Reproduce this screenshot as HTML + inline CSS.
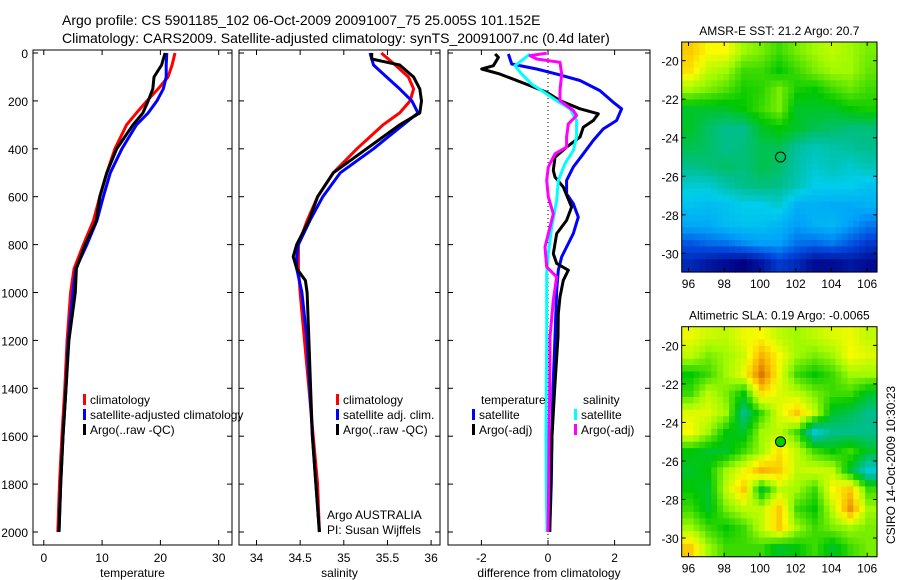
<!DOCTYPE html>
<html><head><meta charset="utf-8">
<style>
html,body{margin:0;padding:0;background:#fff;}
svg{display:block;font-family:"Liberation Sans",sans-serif;}
</style></head>
<body>
<svg id="fig" width="900" height="580" viewBox="0 0 900 580" xmlns="http://www.w3.org/2000/svg">
<text x="62" y="25" font-size="14">Argo profile: CS 5901185_102 06-Oct-2009 20091007_75 25.005S 101.152E</text>
<text x="62" y="43" font-size="14">Climatology: CARS2009. Satellite-adjusted climatology: synTS_20091007.nc (0.4d later)</text>
<g id="layer"></g>
</svg>
<script>
// ---- Data ----
const depthTicks=[0,200,400,600,800,1000,1200,1400,1600,1800,2000];
const tempTicks=[0,10,20,30];
const salTicks=[34,34.5,35,35.5,36];
const diffTicks=[-2,0,2];
const latTicks=[-20,-22,-24,-26,-28,-30];
const lonTicks=[96,98,100,102,104,106];

const tDepth=[0,50,100,150,200,250,300,400,500,600,700,800,900,1000,1200,1400,1600,1800,2000];
const tempClim=[22.5,22.0,21.3,19.6,17.7,15.9,14.2,12.2,10.8,9.6,8.5,6.8,5.2,4.6,4.0,3.6,3.1,2.7,2.4];
const tempSat=[21.1,21.0,21.0,20.5,19.4,17.9,15.9,13.4,11.4,10.2,9.1,7.4,5.5,5.0,4.2,3.8,3.3,2.9,2.6];
const tempArgo=[20.8,20.2,18.9,18.7,17.9,17.0,15.3,12.5,10.8,9.6,9.0,7.1,5.6,5.4,4.3,3.8,3.3,2.9,2.6];

const sDepth=[0,50,100,150,200,250,300,400,500,600,700,800,850,900,950,1000,1200,1400,1600,1800,2000];
const salClim=[35.43,35.59,35.74,35.80,35.76,35.64,35.45,35.15,34.88,34.70,34.58,34.48,34.48,34.48,34.49,34.50,34.55,34.60,34.65,34.70,34.72];
const salSat=[35.30,35.34,35.49,35.64,35.78,35.85,35.68,35.34,34.96,34.76,34.61,34.48,34.46,34.46,34.49,34.52,34.58,34.61,34.64,34.68,34.72];
const salArgoD=[0,25,50,100,150,200,250,300,400,500,600,700,800,850,900,950,1000,1200,1400,1600,1800,2000];
const salArgo=[35.32,35.32,35.64,35.80,35.87,35.89,35.87,35.64,35.26,34.88,34.70,34.60,34.46,34.42,34.46,34.56,34.58,34.60,34.62,34.64,34.68,34.72];

const dTempArgoD=[4,18,53,67,88,136,164,199,233,254,282,310,351,393,435,490,518,560,643,699,754,838,879,907,949,1018,1088,1185,1400,1600,1800,2000];
const dTempArgo=[-1.59,-1.49,-1.64,-1.99,-1.44,-0.54,-0.04,0.36,0.96,1.51,1.36,1.06,0.96,0.56,0.21,0.16,0.21,0.46,0.71,0.56,0.26,0.16,0.26,0.61,0.46,0.36,0.31,0.3,0.2,0.12,0.08,0.05];
const dTempSatD=[4,46,67,88,115,157,206,233,282,317,365,421,476,532,588,629,685,754,810,851,907,990,1185,1400,1600,1800,2000];
const dTempSat=[-1.19,-1.09,-0.34,0.26,0.96,1.56,1.96,2.21,2.06,1.66,1.36,1.06,0.76,0.56,0.56,0.76,0.91,0.76,0.56,0.41,0.31,0.26,0.21,0.15,0.12,0.1,0.05];
const dSalSatD=[4,53,88,130,157,199,233,282,351,407,462,532,615,727,838,921,1185,1400,1600,1800,2000];
const dSalSat=[-0.54,-0.99,-0.79,-0.49,-0.19,0.26,0.66,0.86,0.86,0.76,0.51,0.31,0.26,0.11,0.01,-0.04,-0.04,-0.05,-0.06,-0.05,-0.03];
const dSalArgoD=[1,11,25,39,88,157,199,240,261,296,351,393,421,476,532,601,671,727,810,893,935,1032,1185,1400,1600,1800,2000];
const dSalArgo=[-0.04,-0.54,-0.34,0.36,0.41,0.36,0.36,0.76,0.86,0.61,0.56,0.56,0.21,0.01,-0.04,0.01,0.16,0.06,-0.09,-0.04,0.26,0.16,0.06,0.05,0.03,0.02,0.0];

const sstGrid=[
[0.70,0.66,0.66,0.60,0.58,0.55,0.58,0.60,0.62,0.60,0.58],
[0.68,0.62,0.60,0.55,0.55,0.52,0.55,0.58,0.60,0.60,0.57],
[0.60,0.58,0.56,0.53,0.54,0.58,0.53,0.52,0.55,0.57,0.55],
[0.50,0.50,0.50,0.52,0.55,0.58,0.50,0.50,0.50,0.52,0.53],
[0.50,0.47,0.45,0.45,0.50,0.52,0.50,0.48,0.47,0.46,0.46],
[0.48,0.47,0.45,0.46,0.48,0.48,0.44,0.42,0.43,0.44,0.45],
[0.45,0.46,0.47,0.46,0.48,0.47,0.43,0.40,0.42,0.40,0.42],
[0.40,0.40,0.43,0.45,0.46,0.45,0.42,0.38,0.38,0.38,0.36],
[0.36,0.35,0.36,0.38,0.38,0.40,0.33,0.33,0.32,0.32,0.33],
[0.32,0.32,0.35,0.36,0.36,0.34,0.30,0.33,0.34,0.30,0.26],
[0.22,0.24,0.25,0.28,0.30,0.30,0.25,0.24,0.26,0.22,0.18],
[0.15,0.12,0.10,0.08,0.12,0.18,0.15,0.10,0.10,0.12,0.10]];
const slaGrid=[
[0.65,0.63,0.62,0.65,0.66,0.62,0.60,0.62,0.64,0.65,0.62],
[0.62,0.58,0.60,0.63,0.72,0.66,0.60,0.58,0.60,0.66,0.64],
[0.52,0.55,0.60,0.65,0.78,0.65,0.55,0.52,0.55,0.60,0.60],
[0.55,0.62,0.58,0.52,0.68,0.64,0.62,0.58,0.55,0.55,0.50],
[0.64,0.64,0.60,0.45,0.55,0.64,0.70,0.62,0.50,0.48,0.45],
[0.66,0.60,0.52,0.50,0.60,0.62,0.55,0.40,0.45,0.45,0.45],
[0.52,0.50,0.50,0.55,0.60,0.68,0.62,0.55,0.52,0.55,0.50],
[0.50,0.52,0.60,0.65,0.72,0.70,0.62,0.63,0.62,0.50,0.40],
[0.52,0.50,0.62,0.70,0.50,0.62,0.60,0.55,0.66,0.70,0.55],
[0.55,0.50,0.58,0.62,0.62,0.70,0.55,0.52,0.62,0.75,0.60],
[0.60,0.55,0.52,0.55,0.62,0.70,0.60,0.55,0.58,0.60,0.58],
[0.70,0.60,0.55,0.55,0.55,0.50,0.52,0.55,0.50,0.55,0.58]];
const argoLon=101.15, argoLat=-25.0;

// ---- Helpers ----
const NS="http://www.w3.org/2000/svg";
const layer=document.getElementById('layer');
function mk(tag,attrs,parent){const e=document.createElementNS(NS,tag);for(const k in attrs)e.setAttribute(k,attrs[k]);(parent||layer).appendChild(e);return e;}
const yD=d=>53+d*0.2395;
const PTOP=50, PBOT=545;
const stops=[[0.08,0,0,130],[0.2,0,70,220],[0.3,0,160,250],[0.38,0,205,235],[0.45,0,190,140],[0.52,0,200,0],[0.6,160,250,0],[0.66,250,250,0],[0.72,250,180,0],[0.8,210,100,0]];
function cmap(v){
 if(v<=stops[0][0])return `rgb(${stops[0][1]},${stops[0][2]},${stops[0][3]})`;
 for(let i=1;i<stops.length;i++){if(v<=stops[i][0]){const a=stops[i-1],b=stops[i],t=(v-a[0])/(b[0]-a[0]);
  return `rgb(${Math.round(a[1]+t*(b[1]-a[1]))},${Math.round(a[2]+t*(b[2]-a[2]))},${Math.round(a[3]+t*(b[3]-a[3]))})`;}}
 const l=stops[stops.length-1];return `rgb(${l[1]},${l[2]},${l[3]})`;}

function panel(name,x0,x1,xf,ticks,title,showY){
 const g=mk('g',{});
 
 
 const fr=mk('rect',{x:x0,y:PTOP,width:x1-x0,height:PBOT-PTOP,fill:'none',stroke:'#000','stroke-width':1},g);
 
 
 depthTicks.forEach(d=>{
  mk('line',{x1:x0,x2:x0+5,y1:yD(d),y2:yD(d),stroke:'#000'},g);
  mk('line',{x1:x1-5,x2:x1,y1:yD(d),y2:yD(d),stroke:'#000'},g);
  if(showY){const t=mk('text',{x:x0-5,y:yD(d)+5,'font-size':12,'text-anchor':'end'},g);t.textContent=d;
   
   }
 });
 ticks.forEach(v=>{const x=xf(v);
  mk('line',{x1:x,x2:x,y1:PBOT,y2:PBOT-5,stroke:'#000'},g);
  mk('line',{x1:x,x2:x,y1:PTOP,y2:PTOP+5,stroke:'#000'},g);
  const t=mk('text',{x:x,y:PBOT+17,'font-size':12,'text-anchor':'middle'},g);t.textContent=v;
  
  });
 const tt=mk('text',{x:(x0+x1)/2,y:577,'font-size':12,'text-anchor':'middle'},g);tt.textContent=title;
 
 
 return g;
}
function line(name,ds,vs,xf,color,g){
 const pts=ds.map((d,i)=>xf(vs[i]).toFixed(1)+','+yD(d).toFixed(1)).join(' ');
 const p=mk('polyline',{points:pts,fill:'none',stroke:color,'stroke-width':3,'stroke-linejoin':'round'},g);
 
 
}
function legend(g,x,y,items){
 items.forEach((it,i)=>{
  if(it[1]){const r=mk('rect',{x:x,y:y+i*15-10,width:3,height:11,fill:it[1]},g);
   
   }
  const t=mk('text',{x:x+(it[1]?7:0),y:y+i*15,'font-size':12},g);t.textContent=it[0];
  
  
 });
}

// temperature panel
const xT=v=>43.8+5.83*v;
const g1=panel('temperature-panel',33,232,xT,tempTicks,'temperature',true);
line('temp-climatology',tDepth,tempClim,xT,'#f00',g1);
line('temp-satellite-adjusted',tDepth,tempSat,xT,'#00f',g1);
line('temp-argo',tDepth,tempArgo,xT,'#000',g1);
legend(g1,83,404,[['climatology','#f00'],['satellite-adjusted climatology','#00f'],['Argo(..raw -QC)','#000']]);

// salinity panel
const xS=v=>256.5+87.3*(v-34);
const g2=panel('salinity-panel',239,440,xS,salTicks,'salinity',false);
line('sal-climatology',sDepth,salClim,xS,'#f00',g2);
line('sal-satellite-adjusted',sDepth,salSat,xS,'#00f',g2);
line('sal-argo',salArgoD,salArgo,xS,'#000',g2);
legend(g2,336,404,[['climatology','#f00'],['satellite adj. clim.','#00f'],['Argo(..raw -QC)','#000']]);
legend(g2,327,519,[['Argo AUSTRALIA',null],['PI: Susan Wijffels',null]]);

// difference panel
const xDf=v=>548+33.3*v;
const g3=panel('difference-panel',448,650,xDf,diffTicks,'difference from climatology',false);
const zl=mk('line',{x1:xDf(0),x2:xDf(0),y1:PTOP,y2:PBOT,stroke:'#000','stroke-dasharray':'1,3'},g3);


line('diff-temp-satellite',dTempSatD,dTempSat,xDf,'#00f',g3);
line('diff-temp-argo',dTempArgoD,dTempArgo,xDf,'#000',g3);
line('diff-sal-satellite',dSalSatD,dSalSat,xDf,'#0ff',g3);
line('diff-sal-argo',dSalArgoD,dSalArgo,xDf,'#f0f',g3);
legend(g3,481,404,[['temperature',null]]);
legend(g3,472,419,[['satellite','#00f'],['Argo(-adj)','#000']]);
legend(g3,583,404,[['salinity',null]]);
legend(g3,574,419,[['satellite','#0ff'],['Argo(-adj)','#f0f']]);

// maps (bilinear-upsampled from grid arrays)
function sample(grid,fr,fc){
 const rows=grid.length,cols=grid[0].length;
 const r=Math.max(0,Math.min(rows-1,fr)),c=Math.max(0,Math.min(cols-1,fc));
 const r0=Math.floor(r),c0=Math.floor(c),r1=Math.min(rows-1,r0+1),c1=Math.min(cols-1,c0+1);
 const tr=r-r0,tc=c-c0;
 return grid[r0][c0]*(1-tr)*(1-tc)+grid[r0][c1]*(1-tr)*tc+grid[r1][c0]*tr*(1-tc)+grid[r1][c1]*tr*tc;
}
function map(name,top,bot,grid,title,filled){
 const L=681.7,R=877,lon0=95.62,lon1=106.55,lat0=-19.03,lat1=-30.97;
 const xL=v=>L+(v-lon0)/(lon1-lon0)*(R-L);
 const yL=v=>top+(v-lat0)/(lat1-lat0)*(bot-top);
 const g=mk('g',{});
 
 
 const rows=grid.length,cols=grid[0].length,S=3;
 for(let r=0;r<rows*S;r++)for(let c=0;c<cols*S;c++){
  const la=lat0+(lat1-lat0)*r/(rows*S), la2=lat0+(lat1-lat0)*(r+1)/(rows*S);
  const lo=lon0+(lon1-lon0)*c/(cols*S), lo2=lon0+(lon1-lon0)*(c+1)/(cols*S);
  const v=sample(grid,(r+0.5)/S-0.5,(c+0.5)/S-0.5);
  const cell=mk('rect',{x:xL(lo),y:yL(la),width:xL(lo2)-xL(lo)+0.6,height:yL(la2)-yL(la)+0.6,fill:cmap(v)},g);
  
  
 }
 const fr=mk('rect',{x:L,y:top,width:R-L,height:bot-top,fill:'none',stroke:'#000'},g);
 
 
 latTicks.forEach(v=>{const y=yL(v);
  mk('line',{x1:L,x2:L+4,y1:y,y2:y,stroke:'#000'},g);mk('line',{x1:R-4,x2:R,y1:y,y2:y,stroke:'#000'},g);
  const t=mk('text',{x:L-3,y:y+5,'font-size':12,'text-anchor':'end'},g);t.textContent=v;
  
  });
 lonTicks.forEach(v=>{const x=xL(v);
  mk('line',{x1:x,x2:x,y1:bot,y2:bot-4,stroke:'#000'},g);mk('line',{x1:x,x2:x,y1:top,y2:top+4,stroke:'#000'},g);
  const t=mk('text',{x:x,y:bot+16,'font-size':12,'text-anchor':'middle'},g);t.textContent=v;
  
  });
 const tt=mk('text',{x:(L+R)/2,y:top-7,'font-size':12,'text-anchor':'middle'},g);tt.textContent=title;
 
 
 const c=mk('circle',{cx:xL(argoLon),cy:yL(argoLat),r:5,fill:filled?'#0c0':'none',stroke:'#000','stroke-width':1},g);
 
 
}
map('sst-map',42,272,sstGrid,'AMSR-E SST: 21.2 Argo: 20.7',false);
map('sla-map',326.7,556.7,slaGrid,'Altimetric SLA: 0.19 Argo: -0.0065',true);
const stamp=mk('text',{x:0,y:0,'font-size':12,'text-anchor':'middle',transform:'translate(895,465) rotate(-90)'});
stamp.textContent='CSIRO 14-Oct-2009 10:30:23';


</script>
</body></html>
